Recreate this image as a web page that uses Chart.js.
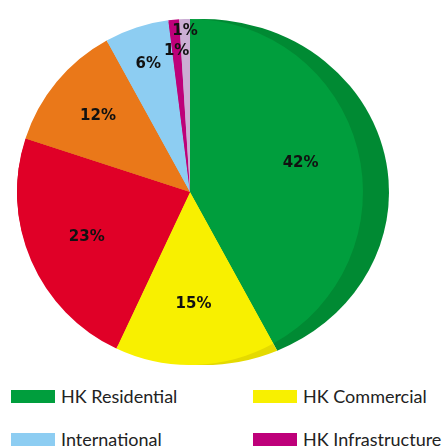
<!DOCTYPE html>
<html>
<head>
<meta charset="utf-8">
<script src="https://cdn.jsdelivr.net/npm/chart.js@4/dist/chart.umd.min.js"></script>
<style>
  html, body { margin: 0; padding: 0; background: #fff; }
  #wrap { position: relative; width: 442px; height: 447px; overflow: hidden; }
  #myChart { position: absolute; left: 0; top: 0; }
  .legend-item { position: absolute; height: 20px; display: flex; align-items: center;
    font-family: Lato, "DejaVu Sans", sans-serif; font-size: 18px; color: #222; white-space: nowrap; }
  .legend-item span.box { display: inline-block; width: 44px; height: 13px; margin-right: 6px; }
</style>
</head>
<body>
<div id="wrap">
  <canvas id="myChart" width="442" height="384"></canvas>
  <div id="legend"></div>
</div>
<script>
// Chart data
var segments = ['HK Residential', 'HK Commercial', 'HK Others', 'Mainland', 'International', 'HK Infrastructure', 'Others'];
var shares = [42, 15, 23, 12, 6, 1, 1];
var colours = ['#009e3d', '#f8f000', '#e00027', '#ea7819', '#8dcdf2', '#be007a', '#cbaed4'];
var rimColours = ['#008a33', '#e4da00', '#c40022', '#d06a14', '#7ab8dc', '#a5006a', '#b898c2'];
var legendItems = [0, 1, 4, 5]; // only these appear under the pie

// where a ray from the pie centre hits the rim ellipse -> ellipse parameter angle
function rimAngle(angle, r, shift) {
    var u = Math.cos(angle), v = Math.sin(angle);
    var A = r + shift, B = r;
    var a = u * u / (A * A) + v * v / (B * B);
    var b = -2 * u * shift / (A * A);
    var c = shift * shift / (A * A) - 1;
    var t = (-b + Math.sqrt(b * b - 4 * a * c)) / (2 * a);
    return Math.atan2(t * v / B, (t * u - shift) / A);
}

// dark rim on the right side, like the side of a tilted pie
var rimPlugin = {
    id: 'rim',
    beforeDatasetsDraw: function(chart) {
        var ctx = chart.ctx;
        var meta = chart.getDatasetMeta(0);
        var shift = 13;
        ctx.save();
        meta.data.forEach(function(arc, i) {
            var p = arc.getProps(['x', 'y', 'outerRadius', 'startAngle', 'endAngle'], true);
            var s = rimAngle(p.startAngle, p.outerRadius, shift);
            var e = rimAngle(p.endAngle, p.outerRadius, shift);
            while (e < s) e += Math.PI * 2;
            ctx.beginPath();
            ctx.moveTo(p.x, p.y);
            ctx.ellipse(p.x + shift, p.y, p.outerRadius + shift, p.outerRadius, 0, s, e);
            ctx.closePath();
            ctx.fillStyle = rimColours[i];
            ctx.fill();
        });
        ctx.restore();
    }
};

var labelPlugin = {
    id: 'sliceLabels',
    afterDatasetsDraw: function(chart) {
        var ctx = chart.ctx;
        var meta = chart.getDatasetMeta(0);
        var spots = [0.66, 0.65, 0.65, 0.69, 0.78, 0.82, 0.93];
        ctx.save();
        ctx.font = 'bold 15px "DejaVu Sans", sans-serif';
        ctx.fillStyle = '#111';
        ctx.textAlign = 'center';
        ctx.textBaseline = 'middle';
        meta.data.forEach(function(arc, i) {
            var p = arc.getProps(['x', 'y', 'outerRadius', 'startAngle', 'endAngle'], true);
            var mid = (p.startAngle + p.endAngle) / 2;
            var d = p.outerRadius * spots[i];
            ctx.fillText(shares[i] + '%', p.x + Math.cos(mid) * d, p.y + Math.sin(mid) * d);
        });
        ctx.restore();
    }
};

var ctx = document.getElementById('myChart').getContext('2d');
var myChart = new Chart(ctx, {
    type: 'pie',
    data: {
        labels: segments,
        datasets: [{
            data: shares,
            backgroundColor: colours,
            borderWidth: 0
        }]
    },
    options: {
        responsive: false,
        animation: false,
        layout: { padding: { left: 17, right: 79, top: 17, bottom: 17 } },
        plugins: {
            legend: { display: false },
            tooltip: { enabled: false }
        }
    },
    plugins: [rimPlugin, labelPlugin]
});

// legend, two columns
var legend = document.getElementById('legend');
legendItems.forEach(function(idx, n) {
    var el = document.createElement('div');
    el.className = 'legend-item';
    el.style.left = (n % 2 === 0 ? 11 : 253) + 'px';
    el.style.top = (n < 2 ? 386 : 429) + 'px';
    el.innerHTML = '<span class="box" style="background:' + colours[idx] + '"></span>' + segments[idx];
    legend.appendChild(el);
});
</script>
</body>
</html>
